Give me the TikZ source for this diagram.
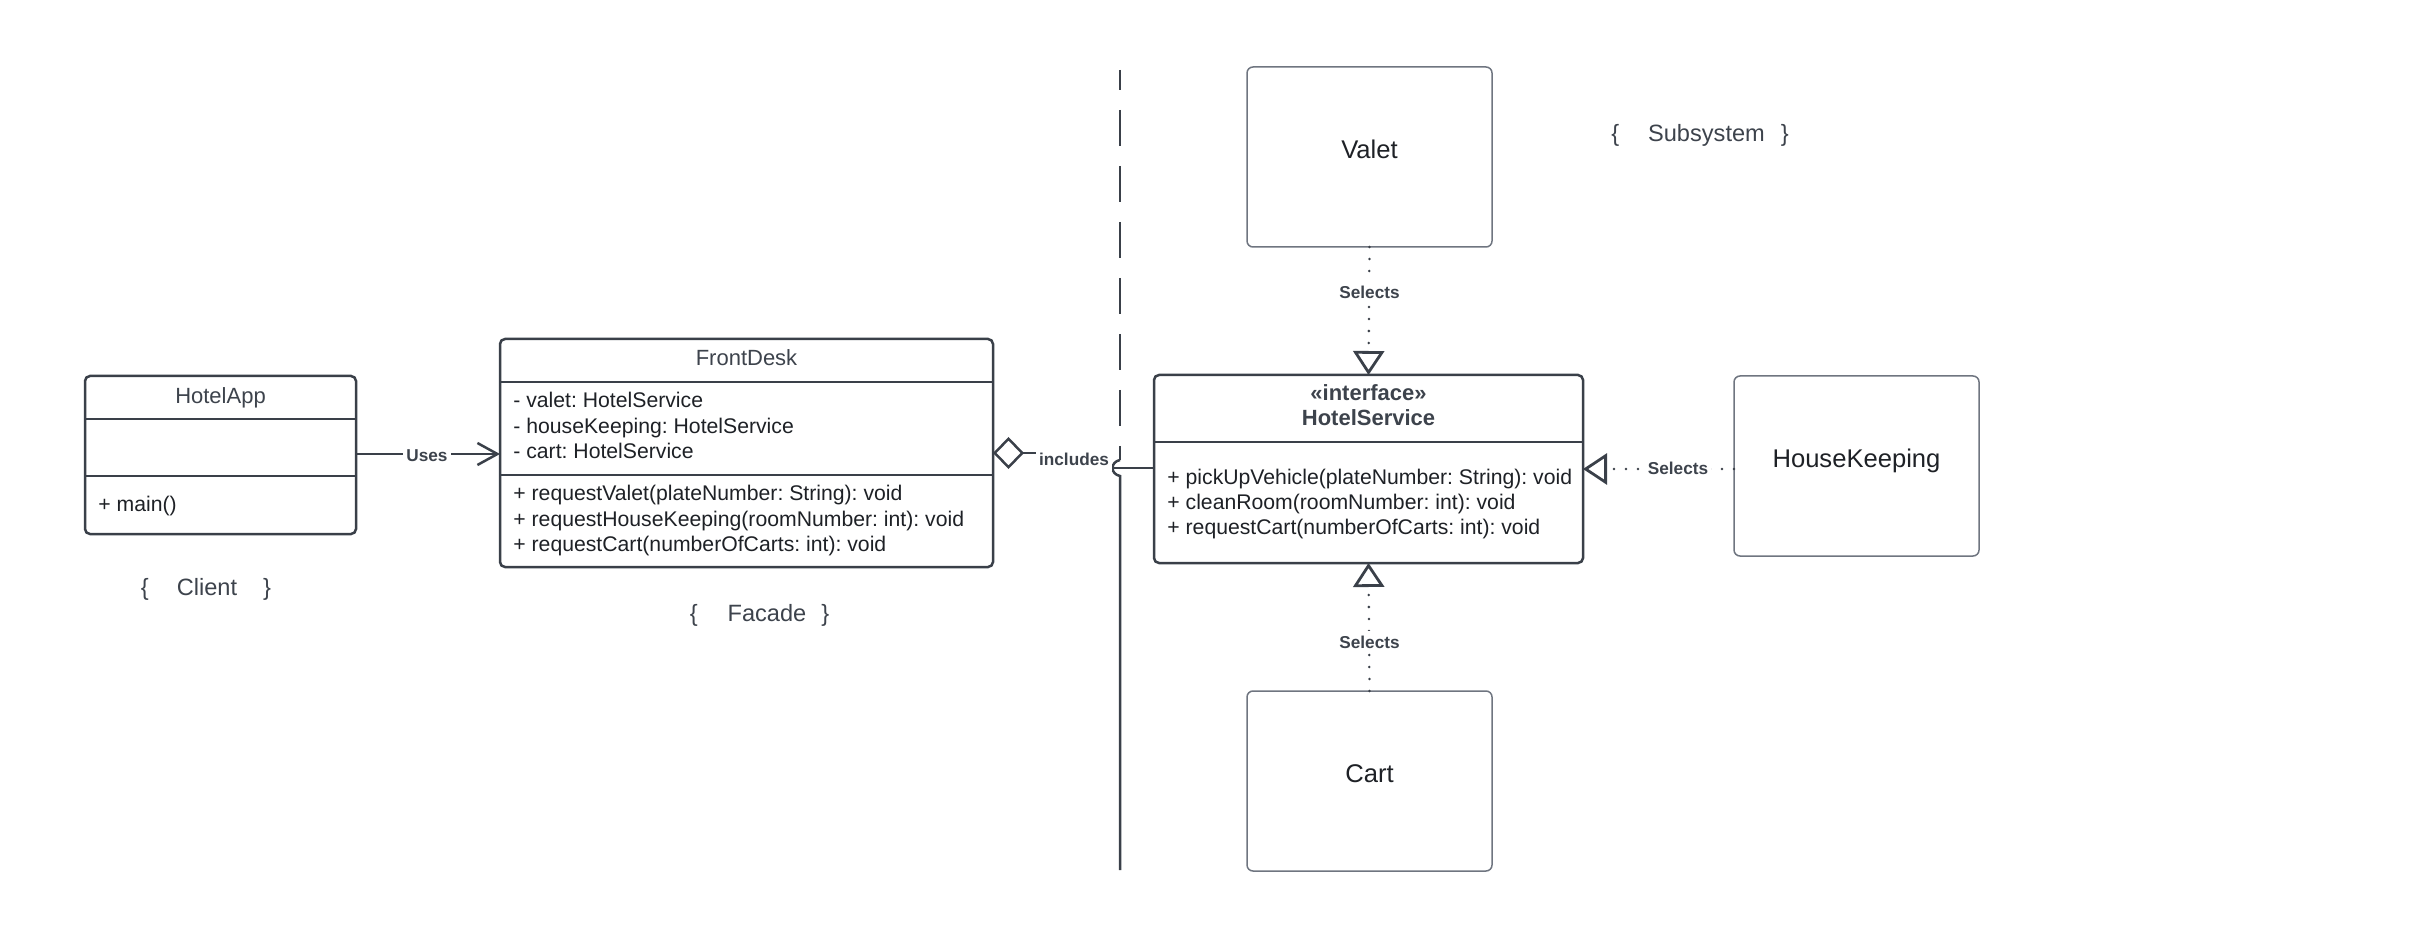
\documentclass[tikz,border=0pt]{standalone}
\usepackage{fontspec}
\setmainfont{Liberation Sans}
\usetikzlibrary{arrows.meta}
\definecolor{lineDark}{HTML}{3A4049}
\definecolor{boxGray}{HTML}{6F7580}
\definecolor{txt}{HTML}{1E2126}
\definecolor{txtGray}{HTML}{3D434C}
\frenchspacing
\begin{document}
\begin{tikzpicture}[x=0.5pt, y=-0.5pt,
  classbox/.style={draw=lineDark, line width=1.25pt, rounded corners=2.5pt, inner sep=0pt, outer sep=0pt, fill=white},
  plainbox/.style={draw=boxGray, line width=0.75pt, rounded corners=3pt, inner sep=0pt, outer sep=0pt,
    font=\fontsize{12.8pt}{15pt}\selectfont, text=txt, text height=9.2pt, text depth=8pt},
  divider/.style={draw=lineDark, line width=1.25pt},
  member/.style={anchor=west, inner sep=0pt, font=\fontsize{10.6pt}{13pt}\selectfont, text=txt, text height=0.72em, text depth=0pt},
  titletext/.style={inner sep=0pt, font=\fontsize{11pt}{13pt}\selectfont, text=txtGray, text height=0.72em, text depth=0pt},
  hstitle/.style={inner sep=0pt, font=\bfseries\fontsize{11pt}{13pt}\selectfont, text=txtGray, text height=0.72em, text depth=0pt},
  lbl/.style={fill=white, inner sep=1.5pt, font=\bfseries\fontsize{8.6pt}{10pt}\selectfont, text=txtGray, text height=0.72em, text depth=0pt},
  conn/.style={draw=lineDark, line width=1.25pt},
  dotconn/.style={draw=lineDark, line width=1.4pt, line cap=round, dash pattern=on 0pt off 6pt},
  realize/.style={-{Triangle[open, length=12pt, width=15.5pt, line width=1.4pt]}},
  grouplbl/.style={inner sep=0pt, font=\fontsize{11.8pt}{14pt}\selectfont, text=txtGray, text height=0.72em, text depth=0pt}
]
\useasboundingbox (0,0) rectangle (2436,930);

% ---------- HotelApp ----------
\node[classbox, minimum width=135.5pt, minimum height=79pt] (app) at (220.5,455) {};
\draw[divider] (app.west |- 0,419) -- (app.east |- 0,419);
\draw[divider] (app.west |- 0,476) -- (app.east |- 0,476);
\node[titletext] (appT) at (220.5,396) {HotelApp};
\node[member] (appM) at (98,504) {+ main()};
\node[grouplbl] (client) at (206,588) {\{\hspace{14pt}Client\hspace{13pt}\}};

% ---------- FrontDesk ----------
\node[classbox, minimum width=246.5pt, minimum height=114pt] (fd) at (746.5,453) {};
\draw[divider] (fd.west |- 0,382) -- (fd.east |- 0,382);
\draw[divider] (fd.west |- 0,475) -- (fd.east |- 0,475);
\node[titletext] (fdT) at (746.5,358) {FrontDesk};
\node[member] (fdA1) at (513,400) {- valet: HotelService};
\node[member] (fdA2) at (513,426) {- houseKeeping: HotelService};
\node[member] (fdA3) at (513,451) {- cart: HotelService};
\node[member] (fdM1) at (513,493) {+ requestValet(plateNumber: String): void};
\node[member] (fdM2) at (513,519) {+ requestHouseKeeping(roomNumber: int): void};
\node[member] (fdM3) at (513,544) {+ requestCart(numberOfCarts: int): void};
\node[grouplbl] (facade) at (759.5,614) {\{\hspace{15pt}Facade\hspace{7.5pt}\}};

% ---------- HotelService ----------
\node[classbox, minimum width=214.5pt, minimum height=94pt] (hs) at (1368.5,469) {};
\draw[divider] (hs.west |- 0,442) -- (hs.east |- 0,442);
\node[hstitle] (hsS) at (1368.5,393) {«interface»};
\node[hstitle] (hsT) at (1368.5,418) {HotelService};
\node[member] (hsM1) at (1167,477) {+ pickUpVehicle(plateNumber: String): void};
\node[member] (hsM2) at (1167,502) {+ cleanRoom(roomNumber: int): void};
\node[member] (hsM3) at (1167,527) {+ requestCart(numberOfCarts: int): void};

% ---------- Subsystem classes ----------
\node[plainbox, minimum width=122.5pt, minimum height=90pt] (valet) at (1369.5,157) {Valet};
\node[plainbox, minimum width=122.5pt, minimum height=90pt] (cart) at (1369.5,781) {Cart};
\node[plainbox, minimum width=122.5pt, minimum height=90pt] (hk) at (1856.5,466) {HouseKeeping};
\node[grouplbl] (subsys) at (1700,134) {\{\hspace{14.5pt}Subsystem\hspace{8pt}\}};

% ---------- separator line ----------
\coordinate (sepTop) at (1120,70);
\coordinate (hopA) at (1120,460);
\coordinate (hopB) at (1120,476);
\coordinate (sepBot) at (1120,870);
\draw[conn, dash pattern=on 18pt off 10pt, dash phase=8pt] (sepTop) -- (hopA);
\draw[conn] (hopA) .. controls (1110,462) and (1110,474) .. (hopB) -- (sepBot);

% ---------- connectors ----------
\draw[conn, -{Straight Barb[length=10pt, width=11pt, line width=1.25pt]}] (app.east |- 0,454) -- (fd.west |- 0,454);
\node[lbl] (uses) at (427,454) {Uses};

\draw[conn, {Diamond[open, length=15.5pt, width=16pt, line width=1.25pt]}-] (fd.east |- 0,453) -- (1074,453) -- (1074,468) -- (hs.west |- 0,468);
\node[lbl, minimum height=13pt] (inc) at (1074,458) {includes};

\draw[dotconn, realize] (valet.south) -- (hs.north);
\node[lbl] (selV) at (1369.5,291) {Selects};
\draw[dotconn, realize] (cart.north) -- (hs.south);
\node[lbl] (selC) at (1369.5,641) {Selects};
\draw[dotconn, realize] (hk.west |- hs.east) -- (hs.east);
\node[lbl] (selH) at (1678,467) {Selects};
\end{tikzpicture}
\end{document}
